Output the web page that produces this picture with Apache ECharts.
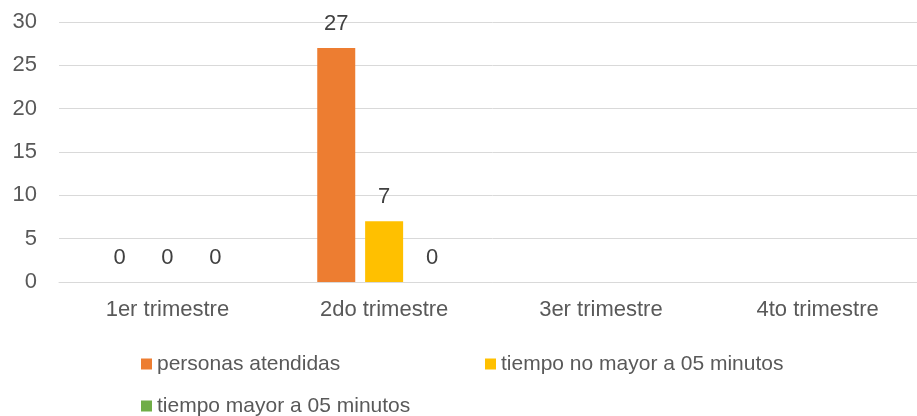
<!DOCTYPE html>
<html>
<head>
<meta charset="utf-8">
<script src="https://cdn.jsdelivr.net/npm/echarts@6/dist/echarts.min.js"></script>
<style>
  html, body { margin: 0; padding: 0; background: #fff; overflow: hidden; }
  /* la cuadricula sale un poco del borde derecho, como en el original */
  #chart { width: 930px; height: 416px; }
</style>
</head>
<body>
<div id="chart"></div>
<script>
// datos
var trimestres = ['1er trimestre', '2do trimestre', '3er trimestre', '4to trimestre'];
var personasAtendidas = [0, 27, '-', '-'];
var tiempoNoMayor = [0, 7, '-', '-'];
var tiempoMayor = [0, 0, '-', '-'];
var yTicks = { min: 0, max: 30, interval: 5 };

var chart = echarts.init(document.getElementById('chart'));
var fuente = '"Liberation Sans", Arial, sans-serif';

function serie(nombre, datos, color) {
    return {
        name: nombre,
        type: 'bar',
        data: datos,
        barWidth: 38,
        barGap: '26%',
        itemStyle: { color: color },
        label: {
            show: true,
            position: 'top',
            distance: 13,
            color: '#404040',
            fontSize: 22,
            fontFamily: fuente
        }
    };
}

var option = {
    animation: false,
    grid: { left: 59, top: 22, width: 867, height: 260 },
    legend: {
        left: 136,
        top: 343,
        width: 700,
        itemWidth: 11,
        itemHeight: 11,
        itemGap: 10,
        icon: 'rect',
        textStyle: {
            color: '#595959',
            fontSize: 21,
            fontFamily: fuente,
            width: 318,
            lineHeight: 32
        },
        data: ['personas atendidas', 'tiempo no mayor a 05 minutos', 'tiempo mayor a 05 minutos']
    },
    xAxis: {
        type: 'category',
        data: trimestres,
        axisLine: { lineStyle: { color: '#d9d9d9', width: 1 } },
        axisTick: { show: false },
        axisLabel: { color: '#595959', fontSize: 22, fontFamily: fuente, margin: 17 }
    },
    yAxis: {
        type: 'value',
        min: yTicks.min,
        max: yTicks.max,
        interval: yTicks.interval,
        axisLine: { show: false },
        axisTick: { show: false },
        splitLine: { lineStyle: { color: '#d9d9d9', width: 1 } },
        axisLabel: { color: '#595959', fontSize: 22, fontFamily: fuente, margin: 22 }
    },
    series: [
        serie('personas atendidas', personasAtendidas, '#ED7D31'),
        serie('tiempo no mayor a 05 minutos', tiempoNoMayor, '#FFC000'),
        serie('tiempo mayor a 05 minutos', tiempoMayor, '#70AD47')
    ]
};
chart.setOption(option);
</script>
</body>
</html>
